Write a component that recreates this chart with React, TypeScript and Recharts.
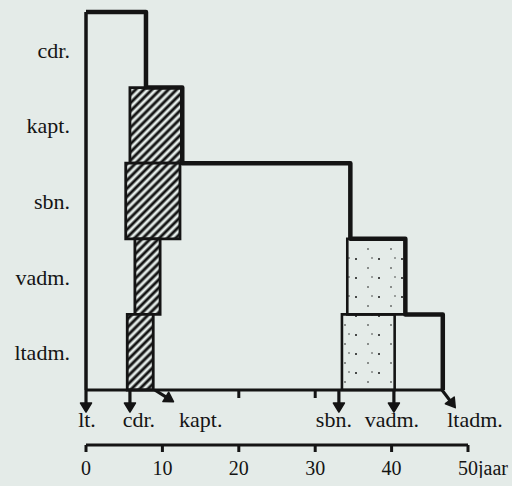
import {
  ComposedChart,
  Line,
  XAxis,
  YAxis,
  ReferenceArea,
  ReferenceLine,
} from "recharts";

// ranks, top band to bottom band
const RANKS = ["cdr.", "kapt.", "sbn.", "vadm.", "ltadm."];

// age (years of service) at which the outline steps down, per rank band
const OUTLINE_END = [7.85, 12.6, 34.6, 41.8, 46.7];

// hatched range per rank band (null = none)
const HATCH_FROM = [null, 5.75, 5.2, 6.4, 5.4];
const HATCH_TO = [null, 12.6, 12.3, 9.7, 8.8];

// stippled range per rank band
const STIPPLE_FROM = [null, null, null, 34.2, 33.5];
const STIPPLE_TO = [null, null, null, 41.8, 40.4];

// arrows under the axis: promotion moments
const START_LABELS = ["lt.", "cdr.", "kapt.", "sbn.", "vadm.", "ltadm."];
const START_YEAR = [0, 5.75, 9, 33.1, 40.3, 46.6];

const YEAR_TICKS = [0, 10, 20, 30, 40, 50];
const MINOR_TICKS = [20, 30];

const INK = "#141414";
const PAPER = "#e4ebe8";
const FONT = '"Liberation Serif", "DejaVu Serif", serif';

// styling of the arrow labels (offset from the arrow, arrow direction)
const LABEL_DX = [1, 9, 46, -5, -2, 33];
const ARROW_DIR = [
  [0, 1],
  [0, 1],
  [0.85, 0.53],
  [0, 1],
  [0, 1],
  [0.6, 0.8],
];

const nBands = RANKS.length;
const bandLow = (i: number) => nBands - 1 - i;

const outline = OUTLINE_END.map((x, i) => ({ x, lvl: bandLow(i) }));
const outlineData = [{ x: 0, lvl: nBands }, ...outline];

const RankTick = (props: any) => {
  const { x, y, payload } = props;
  const i = START_YEAR.indexOf(payload.value);
  if (i < 0) {
    return (
      <line x1={x} x2={x} y1={y} y2={y + 8} stroke={INK} strokeWidth={3} />
    );
  }
  const [ux, uy] = ARROW_DIR[i];
  const len = 13;
  const ex = x + ux * len;
  const ey = y + uy * len;
  const hx = x + ux * (len + 9);
  const hy = y + uy * (len + 9);
  const px = -uy * 5.5;
  const py = ux * 5.5;
  return (
    <g>
      <line x1={x} y1={y} x2={ex} y2={ey} stroke={INK} strokeWidth={3.2} />
      <path
        d={`M${ex + px},${ey + py} L${hx},${hy} L${ex - px},${ey - py} Z`}
        fill={INK}
        stroke={INK}
        strokeWidth={1.5}
        strokeLinejoin="round"
      />
      <text
        x={x + LABEL_DX[i]}
        y={y + 37}
        textAnchor="middle"
        fontSize={22}
        style={{ fontFamily: FONT }}
        fill={INK}
      >
        {START_LABELS[i]}
      </text>
    </g>
  );
};

const YearTick = (props: any) => {
  const { x, y, payload, index } = props;
  const last = index === YEAR_TICKS.length - 1;
  return (
    <text
      x={last ? x - 10 : x}
      y={y}
      dy="0.71em"
      textAnchor={last ? "start" : "middle"}
      fontSize={20}
      style={{ fontFamily: FONT }}
      fill={INK}
    >
      {last ? `${payload.value}jaar` : payload.value}
    </text>
  );
};

const LevelTick = (props: any) => {
  const { x, y, payload } = props;
  return (
    <text
      x={x}
      y={y + 8}
      textAnchor="end"
      fontSize={22}
      style={{ fontFamily: FONT }}
      fill={INK}
    >
      {RANKS[nBands - 1 - Math.floor(payload.value)]}
    </text>
  );
};

export default function App() {
  return (
    <div
      style={{
        position: "fixed",
        left: 0,
        top: 0,
        width: 512,
        height: 486,
        background: PAPER,
        overflow: "hidden",
      }}
    >
      <div style={{ position: "absolute", left: 8, top: 8 }}>
        <ComposedChart
          width={504}
          height={470}
          data={outlineData}
          margin={{ top: 4, right: 44, bottom: 0, left: 0 }}
        >
          <defs>
            <pattern
              id="hatch"
              patternUnits="userSpaceOnUse"
              width={5.8}
              height={5.8}
              patternTransform="rotate(45)"
            >
              <rect width={5.8} height={5.8} fill={PAPER} />
              <line
                x1={2.9}
                y1={0}
                x2={2.9}
                y2={5.8}
                stroke={INK}
                strokeWidth={2.9}
              />
            </pattern>
            <pattern
              id="stipple"
              patternUnits="userSpaceOnUse"
              width={23}
              height={19}
            >
              <circle cx={3} cy={4} r={1} fill={INK} />
              <circle cx={15} cy={13} r={0.8} fill={INK} />
              <circle cx={19} cy={3} r={0.7} fill={INK} />
            </pattern>
          </defs>

          <XAxis
            xAxisId="rank"
            dataKey="x"
            type="number"
            domain={[0, 50]}
            allowDataOverflow
            ticks={[...START_YEAR, ...MINOR_TICKS]}
            interval={0}
            tick={<RankTick />}
            tickLine={false}
            axisLine={false}
            tickSize={0}
            tickMargin={0}
            height={55}
          />
          <XAxis
            xAxisId="years"
            dataKey="x"
            type="number"
            domain={[0, 50]}
            allowDataOverflow
            ticks={YEAR_TICKS}
            interval={0}
            tick={<YearTick />}
            tickSize={7}
            tickMargin={9}
            axisLine={{ stroke: INK, strokeWidth: 3 }}
            tickLine={{ stroke: INK, strokeWidth: 3 }}
            height={33}
          />
          <YAxis
            yAxisId="lvl"
            type="number"
            domain={[0, nBands]}
            ticks={RANKS.map((_, i) => bandLow(i) + 0.5)}
            interval={0}
            tick={<LevelTick />}
            tickLine={false}
            tickSize={0}
            tickMargin={16}
            axisLine={{ stroke: INK, strokeWidth: 3.5 }}
            width={78}
          />

          {RANKS.map((r, i) =>
            HATCH_FROM[i] == null ? null : (
              <ReferenceArea
                key={`h-${r}`}
                xAxisId="years"
                yAxisId="lvl"
                x1={HATCH_FROM[i] as number}
                x2={HATCH_TO[i] as number}
                y1={bandLow(i)}
                y2={bandLow(i) + 1}
                fill="url(#hatch)"
                fillOpacity={1}
                stroke={INK}
                strokeWidth={2.8}
              />
            )
          )}
          {RANKS.map((r, i) =>
            STIPPLE_FROM[i] == null ? null : (
              <ReferenceArea
                key={`s-${r}`}
                xAxisId="years"
                yAxisId="lvl"
                x1={STIPPLE_FROM[i] as number}
                x2={STIPPLE_TO[i] as number}
                y1={bandLow(i)}
                y2={bandLow(i) + 1}
                fill="url(#stipple)"
                fillOpacity={1}
                stroke={INK}
                strokeWidth={2.6}
              />
            )
          )}

          <ReferenceLine
            xAxisId="years"
            yAxisId="lvl"
            segment={[
              { x: 0, y: 0 },
              { x: START_YEAR[START_YEAR.length - 1], y: 0 },
            ]}
            stroke={INK}
            strokeWidth={3}
          />

          <Line
            xAxisId="years"
            yAxisId="lvl"
            dataKey="lvl"
            type="stepAfter"
            stroke={INK}
            strokeWidth={4.5}
            strokeLinejoin="round"
            dot={false}
            activeDot={false}
            isAnimationActive={false}
          />
        </ComposedChart>
      </div>
    </div>
  );
}
